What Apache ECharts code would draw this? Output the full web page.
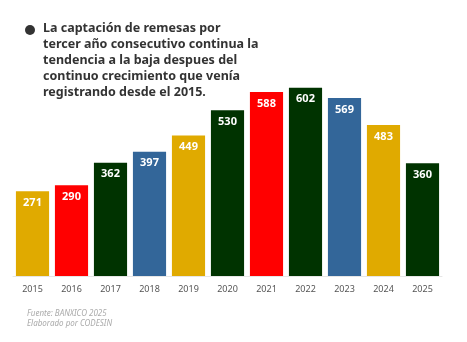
<!DOCTYPE html>
<html><head><meta charset="utf-8">
<script src="https://cdn.jsdelivr.net/npm/echarts@6/dist/echarts.min.js"></script>
<style>html,body{margin:0;padding:0;background:#fff}#c{width:467px;height:342px}</style>
</head><body><div id="c"></div>
<script>
const categories = ['2015','2016','2017','2018','2019','2020','2021','2022','2023','2024','2025'];
const values = [271,290,362,397,449,530,588,602,569,483,360];
const barColors = ['#E0AA00','#FF0000','#003300','#336699','#E0AA00','#003300','#FF0000','#003300','#336699','#E0AA00','#003300'];
const titleLines = ['La captación de remesas por','tercer año consecutivo continua la','tendencia a la baja despues del','continuo crecimiento que venía','registrando desde el 2015.'];
const footLines = ['Fuente: BANXICO 2025','Elaborado por CODESIN'];

const chart = echarts.init(document.getElementById('c'), null, {renderer:'canvas'});
chart.setOption({
  backgroundColor:'#fff',
  animation:false,
  grid:{left:13, right:25, top:57, bottom:66},
  xAxis:{type:'category', data:categories,
    axisLine:{lineStyle:{color:'#e6e6e6'}}, axisTick:{show:false},
    axisLabel:{color:'#555', fontSize:9, fontFamily:'Noto Sans', margin:9}},
  yAxis:{type:'value', min:0, max:700, show:false, splitLine:{show:false}},
  series:[{type:'bar', barCategoryGap:'15%',
    data: values.map((v,i)=>({value:v, itemStyle:{color:barColors[i]}})),
    label:{show:true, position:'insideTop', distance:6, color:'#fff', fontWeight:'bold', fontSize:11, fontFamily:'Noto Sans'}
  }],
  graphic:[
    {type:'circle', shape:{cx:30, cy:30, r:5}, style:{fill:'#333'}},
    {type:'text', left:43, top:20, style:{text:titleLines.join('\n'), fill:'#333', font:'bold 12.5px "Noto Sans"', lineHeight:16.2}},
    {type:'text', left:27, top:309, style:{text:footLines.join('\n'), fill:'#aaa', font:'italic 8px "Noto Sans"', lineHeight:10}}
  ]
});
</script></body></html>
